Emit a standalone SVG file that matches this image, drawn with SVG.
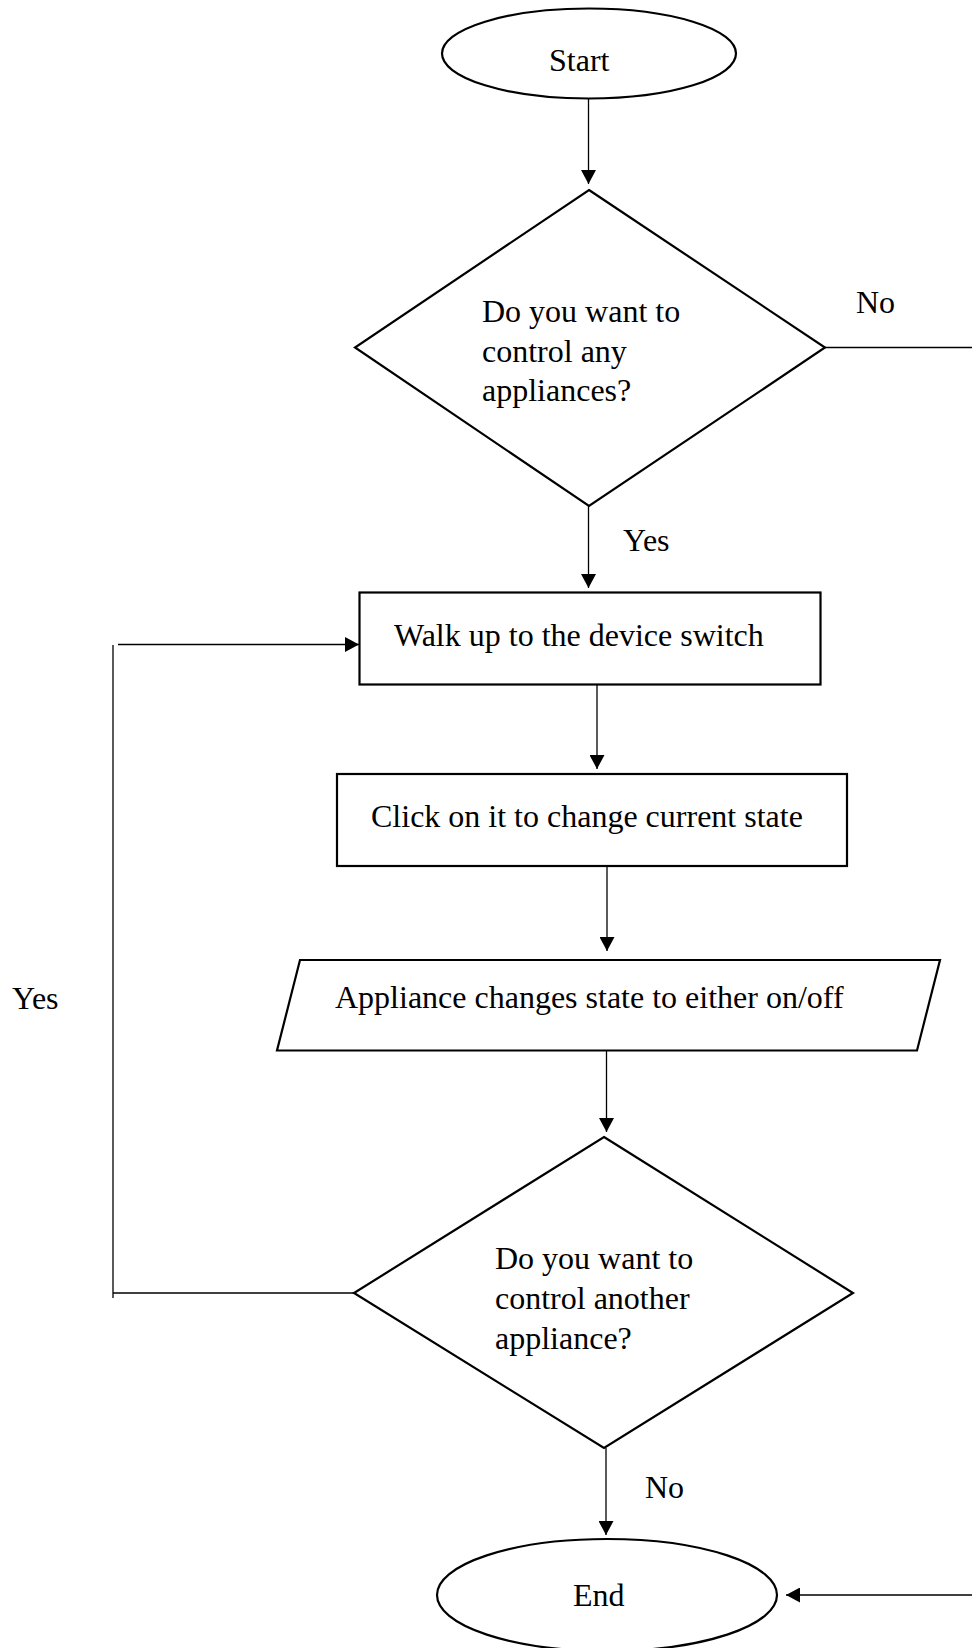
<svg xmlns="http://www.w3.org/2000/svg" width="972" height="1648" viewBox="0 0 972 1648">
<defs>
<style>
.shape{fill:#fff;stroke:#000;stroke-width:2.2}
.conn{fill:none;stroke:#000;stroke-width:1.3}
text{font-family:"Liberation Serif","Times New Roman",serif;font-size:32px;fill:#000}
</style>
<marker id="arr" markerUnits="userSpaceOnUse" markerWidth="15" markerHeight="15" refX="14" refY="7.5" orient="auto">
<path d="M0,0 L14,7.5 L0,15 z" fill="#000"/>
</marker>
</defs>
<rect width="972" height="1648" fill="#fff"/>
<g id="connectors">
<line class="conn" x1="588.5" y1="98" x2="588.5" y2="184" marker-end="url(#arr)"/>
<line class="conn" x1="825" y1="347.5" x2="972" y2="347.5"/>
<line class="conn" x1="588.5" y1="506" x2="588.5" y2="588" marker-end="url(#arr)"/>
<line class="conn" x1="597" y1="684" x2="597" y2="769" marker-end="url(#arr)"/>
<line class="conn" x1="607" y1="866" x2="607" y2="951" marker-end="url(#arr)"/>
<line class="conn" x1="606.5" y1="1050" x2="606.5" y2="1132" marker-end="url(#arr)"/>
<line class="conn" x1="606" y1="1448" x2="606" y2="1535" marker-end="url(#arr)"/>
<polyline class="conn" points="354,1293 113,1293"/>
<line class="conn" x1="113" y1="1298" x2="113" y2="645"/>
<line class="conn" x1="118" y1="644.5" x2="359" y2="644.5" marker-end="url(#arr)"/>
<line class="conn" x1="972" y1="1595" x2="786" y2="1595" marker-end="url(#arr)"/>
</g>
<g id="start">
<ellipse class="shape" cx="589" cy="53.5" rx="147" ry="45"/>
<text x="549" y="71">Start</text>
</g>
<g id="decision1">
<polygon class="shape" points="589,190 825,347.5 589,506 355,347.5"/>
<text x="482" y="322">Do you want to</text>
<text x="482" y="361.5">control any</text>
<text x="482" y="401">appliances?</text>
</g>
<g id="walk">
<rect class="shape" x="359.5" y="592.5" width="461" height="92"/>
<text x="394" y="646">Walk up to the device switch</text>
</g>
<g id="click">
<rect class="shape" x="337" y="774" width="510" height="92"/>
<text x="371" y="827">Click on it to change current state</text>
</g>
<g id="appliance-state">
<polygon class="shape" points="300,960 940,960 917,1050.5 277,1050.5"/>
<text x="335" y="1008">Appliance changes state to either on/off</text>
</g>
<g id="decision2">
<polygon class="shape" points="604,1137 853,1293 604,1448 354,1293"/>
<text x="495" y="1269">Do you want to</text>
<text x="495" y="1309">control another</text>
<text x="495" y="1349">appliance?</text>
</g>
<g id="end">
<ellipse class="shape" cx="607" cy="1595" rx="170" ry="56"/>
<text x="573" y="1606">End</text>
</g>
<g id="labels">
<text x="856" y="313">No</text>
<text x="623" y="551">Yes</text>
<text x="12" y="1009">Yes</text>
<text x="645" y="1498">No</text>
</g>
</svg>
